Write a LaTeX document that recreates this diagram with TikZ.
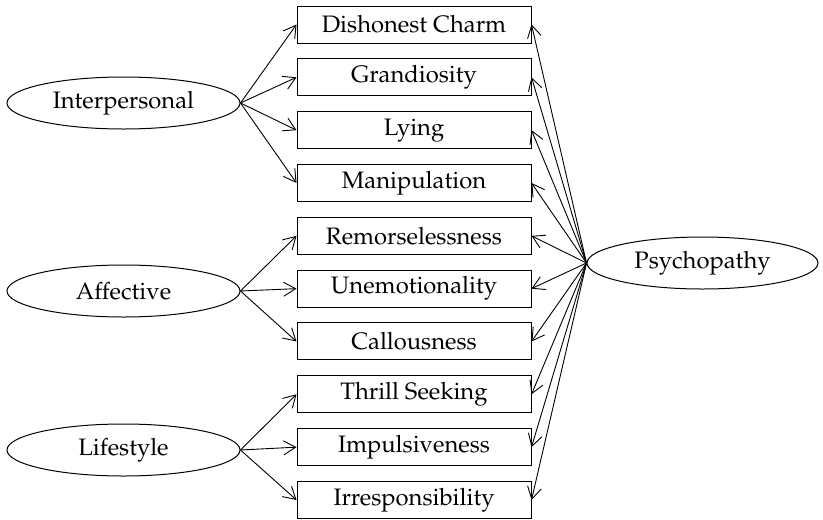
\documentclass[tikz,border=0pt]{standalone}
\usepackage[T1]{fontenc}
\usepackage{mathpazo}
\usetikzlibrary{shapes.geometric,arrows.meta}
\begin{document}
\begin{tikzpicture}[x=1pt,y=-1pt,
  every node/.style={font=\fontsize{23.8}{28}\selectfont},
  item/.style={draw,line width=1pt,minimum width=234pt,minimum height=37pt,inner sep=0pt},
  factor/.style={draw,ellipse,line width=1pt,minimum width=233pt,minimum height=52pt,inner sep=0pt},
  arr/.style={line width=0.9pt,-{Straight Barb[length=12pt,width=14pt,line width=0.9pt]}}]
\useasboundingbox (0,0) rectangle (823,520);
\foreach \n/\t [count=\i from 0] in {a/Dishonest Charm,b/Grandiosity,c/Lying,d/Manipulation,e/Remorselessness,f/Unemotionality,g/Callousness,h/Thrill Seeking,k/Impulsiveness,l/Irresponsibility}
  \node[item] (\n) at (414,24.5+52.83*\i) {\t};
\node[factor] (ip) at (123.5,103) {Interpersonal};
\node[factor] (af) at (123.5,291) {Affective};
\node[factor] (ls) at (123.5,450) {Lifestyle};
\node[factor,minimum width=231pt] (ps) at (702.5,263) {Psychopathy};
\foreach \n in {a,b,c,d} \draw[arr] (ip.east) -- (\n.west);
\foreach \n in {e,f,g} \draw[arr] (af.east) -- (\n.west);
\foreach \n in {h,k,l} \draw[arr] (ls.east) -- (\n.west);
\foreach \n in {a,b,c,d,e,f,g,h,k,l} \draw[arr] (ps.west) -- (\n.east);
\end{tikzpicture}
\end{document}
